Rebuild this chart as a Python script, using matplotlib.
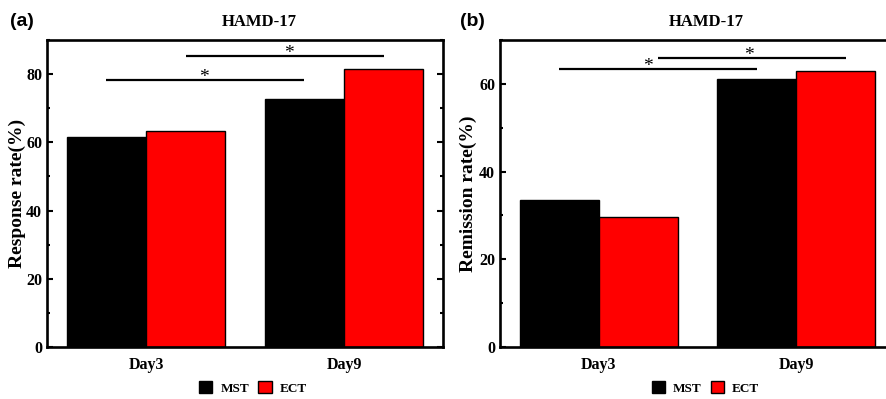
import matplotlib
matplotlib.use('Agg')
import matplotlib.pyplot as plt
from matplotlib.patches import Patch
from matplotlib.ticker import MultipleLocator
import numpy as np

plt.rcParams['font.family'] = ['Liberation Serif', 'DejaVu Serif']
plt.rcParams['font.weight'] = 'bold'

days = ['Day3', 'Day9']
groups = ['MST', 'ECT']
colors = ['#000000', '#ff0000']

response_mst = [61.5, 72.7]
response_ect = [63.2, 81.6]
remission_mst = [33.5, 61.1]
remission_ect = [29.7, 63.0]

# significance brackets: (x start, x end, height, star x)
sig_a = [(0.8, 1.8, 78.4, 1.29), (1.2, 2.2, 85.3, 1.72)]
sig_b = [(0.8, 1.8, 63.4, 1.25), (1.3, 2.25, 65.9, 1.76)]

fig = plt.figure(figsize=(8.87, 3.99), dpi=100)
ax_a = fig.add_axes([0.053, 0.1303, 0.4465, 0.7694])
ax_b = fig.add_axes([0.5637, 0.1303, 0.4453, 0.7694])

panels = [
    (ax_a, response_mst, response_ect, sig_a, 90, 'Response rate(%)', 0.537, -0.052),
    (ax_b, remission_mst, remission_ect, sig_b, 70, 'Remission rate(%)', 0.523, -0.057),
]

x = np.arange(1, len(days) + 1)
width = 0.4
for ax, mst, ect, sig, ymax, ylabel, tx, lx in panels:
    ax.bar(x - width / 2, mst, width, color=colors[0], edgecolor='black', lw=1)
    ax.bar(x + width / 2, ect, width, color=colors[1], edgecolor='black', lw=1)
    for x0, x1, h, sx in sig:
        ax.plot([x0, x1], [h, h], color='black', lw=1.6, solid_capstyle='butt')
        ax.annotate('*', xy=(sx, h), xytext=(0, -1.5),
                    textcoords='offset points', ha='center', va='baseline',
                    fontsize=14, fontweight='normal')
    ax.set_xlim(0.5, 2.5)
    ax.set_ylim(0, ymax)
    ax.set_xticks(x)
    ax.set_xticklabels(days, fontsize=11.5, fontweight='bold')
    ax.tick_params(axis='x', length=0, pad=7)
    ax.yaxis.set_major_locator(MultipleLocator(20))
    ax.yaxis.set_minor_locator(MultipleLocator(10))
    ax.tick_params(axis='y', which='both', direction='in', left=True,
                   right=True, width=1.5, labelsize=11.5)
    ax.tick_params(axis='y', which='major', length=4)
    ax.tick_params(axis='y', which='minor', length=2.5)
    for lab in ax.get_yticklabels():
        lab.set_fontweight('bold')
    for sp in ax.spines.values():
        sp.set_linewidth(1.9)
    ax.set_ylabel(ylabel, fontsize=14, fontweight='bold')
    ax.yaxis.set_label_coords(lx, 0.5)
    ax.text(tx, 1.045, 'HAMD-17', transform=ax.transAxes, ha='center',
            va='baseline', fontsize=12, fontweight='bold')
    handles = [Patch(facecolor=c, edgecolor='black', lw=1) for c in colors]
    ax.legend(handles, groups, loc='center', bbox_to_anchor=(0.52, -0.134),
              ncol=2, frameon=False, handlelength=1.0, handleheight=1.0,
              handletextpad=0.6, columnspacing=0.7,
              prop={'family': 'Liberation Serif', 'weight': 'bold', 'size': 9.5})

fig.text(0.011, 0.945, '(a)', fontsize=14, fontweight='bold',
         family='Liberation Sans', va='center')
fig.text(0.519, 0.945, '(b)', fontsize=14, fontweight='bold',
         family='Liberation Sans', va='center')

fig.savefig('out.png', dpi=100)
